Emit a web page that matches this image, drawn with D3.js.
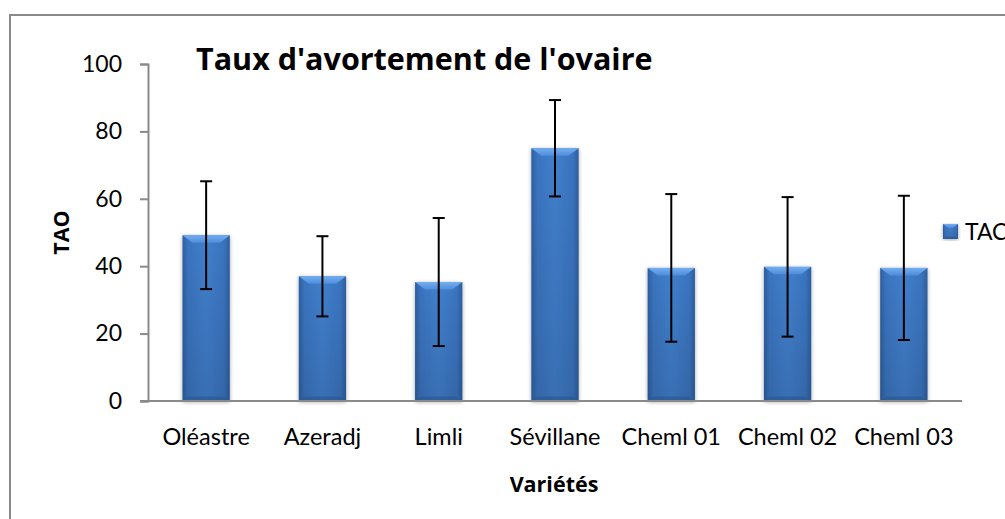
<!DOCTYPE html>
<html lang="fr">
    <head>
        <meta charset="UTF-8"/>
        <title>Taux d'avortement de l'ovaire</title>
        <script src="https://d3js.org/d3.v7.min.js"></script>
        <style>
            body { margin: 0; background-color: #fff; font-family: Lato, "Open Sans", sans-serif; }
            svg { display: block; }
        </style>
    </head>
    <body>
        <div id="grafico"></div>
        <script>
            // valeurs
            var varietes = ["Oléastre", "Azeradj", "Limli", "Sévillane", "Cheml 01", "Cheml 02", "Cheml 03"];
            var tao = [49.2, 37.0, 35.3, 75.0, 39.5, 39.8, 39.5];
            var ecart = [16.0, 11.9, 19.0, 14.3, 21.9, 20.7, 21.4];
            var yTicks = [0, 20, 40, 60, 80, 100];
            var serie = "TAC";

            var width = 1005, height = 519;
            var margin = {top: 64, left: 148, right: 43, bottom: 118};

            var data = varietes.map(function(v, i) {
                return {variete: v, valeur: tao[i], erreur: ecart[i]};
            });

            var svg = d3.select("#grafico")
              .append("svg")
                .attr("width", width)
                .attr("height", height);

            var defs = svg.append("defs");

            var gradCorps = defs.append("linearGradient")
                .attr("id", "corps").attr("x1", 0).attr("x2", 1).attr("y1", 0).attr("y2", 0);
            [["0%", "#2d5e9f"], ["12%", "#3a74bf"], ["50%", "#417fcc"], ["88%", "#3a74bf"], ["100%", "#2d5e9f"]]
                .forEach(function(s) { gradCorps.append("stop").attr("offset", s[0]).attr("stop-color", s[1]); });

            var gradOmbre = defs.append("linearGradient")
                .attr("id", "assombrir").attr("x1", 0).attr("x2", 0).attr("y1", 0).attr("y2", 1);
            gradOmbre.append("stop").attr("offset", "0%").attr("stop-color", "#000").attr("stop-opacity", 0);
            gradOmbre.append("stop").attr("offset", "100%").attr("stop-color", "#000").attr("stop-opacity", 0.12);

            var gradHaut = defs.append("linearGradient")
                .attr("id", "haut").attr("x1", 0).attr("x2", 0).attr("y1", 0).attr("y2", 1);
            gradHaut.append("stop").attr("offset", "0%").attr("stop-color", "#74aef0");
            gradHaut.append("stop").attr("offset", "100%").attr("stop-color", "#4e8ddb");

            var filtre = defs.append("filter").attr("id", "ombre")
                .attr("x", "-20%").attr("y", "-10%").attr("width", "140%").attr("height", "120%");
            filtre.append("feGaussianBlur").attr("in", "SourceAlpha").attr("stdDeviation", 2);
            filtre.append("feOffset").attr("dx", 0).attr("dy", 1).attr("result", "flou");
            filtre.append("feComponentTransfer").append("feFuncA").attr("type", "linear").attr("slope", 0.35);
            var fusion = filtre.append("feMerge");
            fusion.append("feMergeNode");
            fusion.append("feMergeNode").attr("in", "SourceGraphic");

            // cadre gris de la zone du graphique
            svg.append("rect")
                .attr("x", 10).attr("y", 15)
                .attr("width", 1100).attr("height", 600)
                .attr("fill", "none")
                .attr("stroke", "#8a8a8a")
                .attr("stroke-width", 2);

            var xScale = d3.scaleBand()
                .domain(varietes)
                .range([margin.left, width - margin.right])
                .padding(0);
            var yScale = d3.scaleLinear()
                .domain([0, 100])
                .range([height - margin.bottom, margin.top]);

            var barW = xScale.bandwidth() * 0.407;
            var bev = 10;

            // barres biseautées
            var barres = svg.append("g")
                .selectAll("g")
                .data(data)
                .join("g")
                .attr("transform", function(d) {
                    return "translate(" + (xScale(d.variete) + (xScale.bandwidth() - barW) / 2) + "," + yScale(d.valeur) + ")";
                });

            function dessinerBiseau(sel, w, h, b) {
                sel.append("rect")
                    .attr("width", w).attr("height", h)
                    .attr("fill", "url(#corps)")
                    .attr("filter", "url(#ombre)");
                sel.append("rect")
                    .attr("width", w).attr("height", h)
                    .attr("fill", "url(#assombrir)");
                sel.append("path")
                    .attr("d", "M0,0L" + w + ",0L" + (w - b) + "," + (b * 0.75) + "L" + b + "," + (b * 0.75) + "Z")
                    .attr("fill", "url(#haut)");
                sel.append("path")
                    .attr("d", "M0," + h + "L" + w + "," + h + "L" + (w - b * 0.6) + "," + (h - b * 0.45) + "L" + (b * 0.6) + "," + (h - b * 0.45) + "Z")
                    .attr("fill", "#2b5894").attr("opacity", 0.7);
            }

            barres.each(function(d) {
                dessinerBiseau(d3.select(this), barW, yScale(0) - yScale(d.valeur), bev);
            });

            // axes
            var axeY = svg.append("g")
                .attr("transform", "translate(" + margin.left + ",0)")
                .call(d3.axisLeft(yScale).tickValues(yTicks).tickSize(8).tickPadding(18));
            axeY.selectAll("text")
                .attr("font-family", "Lato, sans-serif")
                .attr("font-size", 23)
                .attr("fill", "#000");

            var axeX = svg.append("g")
                .attr("transform", "translate(0," + yScale(0) + ")")
                .call(d3.axisBottom(xScale).tickSize(0).tickSizeOuter(0));
            axeX.selectAll("text")
                .attr("font-family", "Lato, sans-serif")
                .attr("font-size", 23.5)
                .attr("fill", "#000")
                .attr("y", 44)
                .attr("dy", 0);

            svg.selectAll(".domain, .tick line")
                .attr("stroke", "#8a8a8a")
                .attr("stroke-width", 2);
            // ligne d'axe X prolongée jusqu'à la graduation
            axeX.select(".domain").attr("d", "M" + (margin.left - 8) + ",0H" + (width - margin.right));

            // barres d'erreur
            var erreurs = svg.append("g")
                .selectAll("g")
                .data(data)
                .join("g")
                .attr("transform", function(d) {
                    return "translate(" + (xScale(d.variete) + xScale.bandwidth() / 2) + ",0)";
                })
                .attr("stroke", "#000")
                .attr("stroke-width", 2);
            erreurs.append("line")
                .attr("y1", function(d) { return yScale(d.valeur + d.erreur); })
                .attr("y2", function(d) { return yScale(d.valeur - d.erreur); });
            erreurs.append("line")
                .attr("x1", -6).attr("x2", 6)
                .attr("y1", function(d) { return yScale(d.valeur + d.erreur); })
                .attr("y2", function(d) { return yScale(d.valeur + d.erreur); });
            erreurs.append("line")
                .attr("x1", -6).attr("x2", 6)
                .attr("y1", function(d) { return yScale(d.valeur - d.erreur); })
                .attr("y2", function(d) { return yScale(d.valeur - d.erreur); });

            // titres
            svg.append("text")
                .attr("x", 196).attr("y", 70)
                .attr("font-family", "'Open Sans', sans-serif")
                .attr("font-weight", "bold")
                .attr("font-size", 30.5)
                .text("Taux d'avortement de l'ovaire");

            svg.append("text")
                .attr("transform", "translate(69," + (yScale(50)) + ") rotate(-90)")
                .attr("text-anchor", "middle")
                .attr("font-family", "'Open Sans', sans-serif")
                .attr("font-weight", "bold")
                .attr("font-size", 21.5)
                .text("TAO");

            svg.append("text")
                .attr("x", (margin.left + width - margin.right) / 2 - 1)
                .attr("y", 492)
                .attr("text-anchor", "middle")
                .attr("font-family", "'Open Sans', sans-serif")
                .attr("font-weight", "bold")
                .attr("font-size", 21.5)
                .text("Variétés");

            // légende
            var legende = svg.append("g")
                .attr("transform", "translate(943,224)");
            dessinerBiseau(legende, 15, 15, 5);
            legende.append("text")
                .attr("x", 22).attr("y", 15.5)
                .attr("font-family", "Lato, sans-serif")
                .attr("font-size", 23)
                .text(serie);
        </script>
    </body>
</html>
